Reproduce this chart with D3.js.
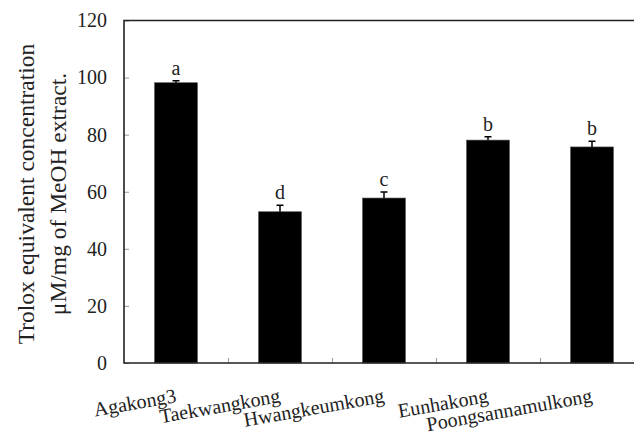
<!DOCTYPE html>
<html>
<head>
<meta charset="utf-8">
<script src="https://cdn.jsdelivr.net/npm/d3@7"></script>
<style>
  body { margin: 0; background: #fff; }
  svg { display: block; font-family: "Liberation Serif", "Times New Roman", serif; }
</style>
</head>
<body>
<div id="chart"></div>
<script>
// values
var categories = ["Agakong3", "Taekwangkong", "Hwangkeumkong", "Eunhakong", "Poongsannamulkong"];
var means = [98.2, 53.0, 57.8, 78.1, 75.7];
var errors = [0.7, 2.3, 2.1, 1.2, 2.0];
var letters = ["a", "d", "c", "b", "b"];
var yTicks = [0, 20, 40, 60, 80, 100, 120];
var titleLines = ["Trolox equivalent concentration", "\u03bcM/mg of MeOH extract."];

var WIDTH = 634,
    HEIGHT = 437,
    MARGINS = {top: 20.5, right: -10, bottom: 74, left: 124};

var svg = d3.select("#chart").append("svg")
  .attr("width", WIDTH)
  .attr("height", HEIGHT);

var x = d3.scaleBand()
  .domain(categories)
  .range([MARGINS.left, WIDTH - MARGINS.right])
  .paddingInner(0.587)
  .paddingOuter(0.2935);

var y = d3.scaleLinear()
  .domain([0, 120])
  .range([HEIGHT - MARGINS.bottom, MARGINS.top]);

// category boundaries for the little ticks on the bottom axis
var slot = d3.scaleLinear()
  .domain([0, categories.length])
  .range([MARGINS.left, WIDTH - MARGINS.right]);

var yAxis = d3.axisLeft(y)
  .tickValues(yTicks)
  .tickSizeInner(-5)
  .tickSizeOuter(0)
  .tickPadding(17);

var gy = svg.append("g")
  .attr("class", "y axis")
  .attr("transform", "translate(" + MARGINS.left + ",0)")
  .call(yAxis);
gy.select(".domain").remove();
gy.selectAll(".tick line").attr("stroke", "#999");
gy.selectAll(".tick text")
  .attr("fill", "#222")
  .style("font-size", "20px")
  .style("font-family", "Liberation Serif, Times New Roman, serif");

var xAxis = d3.axisBottom(slot)
  .tickValues(d3.range(1, categories.length))
  .tickSizeInner(-5)
  .tickSizeOuter(0)
  .tickFormat("");

var gx = svg.append("g")
  .attr("class", "x axis")
  .attr("transform", "translate(0," + y(0) + ")")
  .call(xAxis);
gx.select(".domain").remove();
gx.selectAll(".tick line").attr("stroke", "#999");

// bars
svg.selectAll(".bar")
  .data(means)
  .enter().append("rect")
  .attr("class", "bar")
  .attr("x", function(d, i) { return x(categories[i]); })
  .attr("y", function(d) { return y(d); })
  .attr("width", x.bandwidth())
  .attr("height", function(d) { return y(0) - y(d); })
  .attr("fill", "#000")
  .attr("stroke", "#555")
  .attr("stroke-width", 0.6);

// upper error bars
var cx = function(i) { return x(categories[i]) + x.bandwidth() / 2; };
svg.selectAll(".err")
  .data(means)
  .enter().append("path")
  .attr("class", "err")
  .attr("d", function(d, i) {
    var top = y(d + errors[i]);
    return "M" + cx(i) + "," + y(d) + "V" + top +
      "M" + (cx(i) - 3.5) + "," + top + "H" + (cx(i) + 3.5);
  })
  .attr("stroke", "#000")
  .attr("stroke-width", 1.5)
  .attr("fill", "none");

// significance letters
svg.selectAll(".sig")
  .data(letters)
  .enter().append("text")
  .attr("class", "sig")
  .attr("x", function(d, i) { return cx(i); })
  .attr("y", function(d, i) { return y(means[i] + errors[i]) - 6; })
  .attr("text-anchor", "middle")
  .attr("fill", "#222")
  .style("font-size", "20px")
  .text(function(d) { return d; });

// frame (right side falls outside the picture)
svg.append("path")
  .attr("d", "M" + (WIDTH + 10) + "," + y(120) + "H" + MARGINS.left + "V" + y(0) + "H" + (WIDTH + 10))
  .attr("fill", "none")
  .attr("stroke", "#222")
  .attr("stroke-width", 1.6);

// category labels, slanted
svg.selectAll(".cat")
  .data(categories)
  .enter().append("text")
  .attr("class", "cat")
  .attr("transform", function(d, i) {
    return "translate(" + (cx(i) + 1) + ",402) rotate(-10)";
  })
  .attr("text-anchor", "end")
  .attr("fill", "#222")
  .style("font-size", "20px")
  .text(function(d) { return d; });

// y title
var title = svg.append("text")
  .attr("transform", "translate(0,194) rotate(-90)")
  .attr("text-anchor", "middle")
  .attr("fill", "#222")
  .style("font-size", "23.5px");
title.selectAll("tspan")
  .data(titleLines)
  .enter().append("tspan")
  .attr("x", 0)
  .attr("y", function(d, i) { return 34 + i * 32; })
  .text(function(d) { return d; });
</script>
</body>
</html>
